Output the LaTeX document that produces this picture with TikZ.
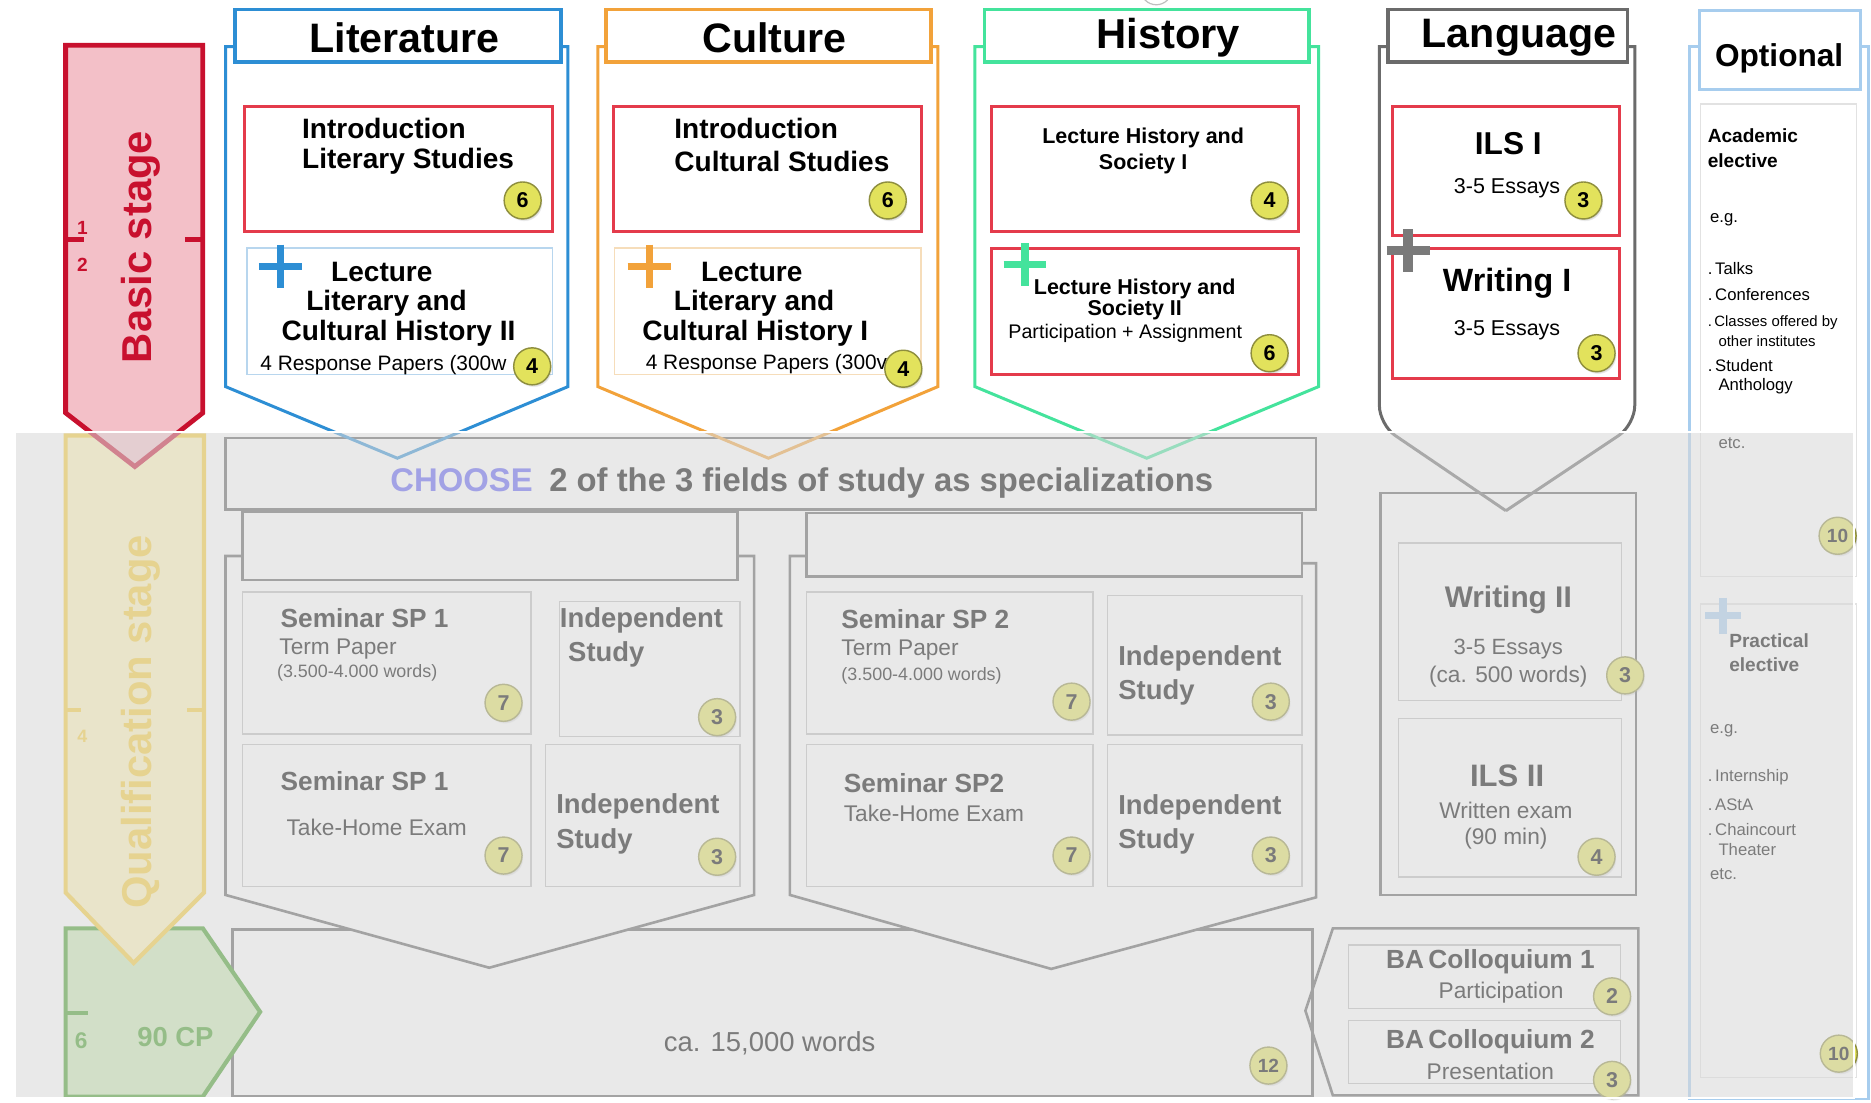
\documentclass[tikz,border=0pt]{standalone}
\usepackage{fontspec}
\setmainfont{Liberation Sans}
\usetikzlibrary{shadows}
\definecolor{redbox}{HTML}{E43B4B}
\definecolor{basicred}{HTML}{C8102E}
\definecolor{basicfill}{HTML}{F3C0C8}
\definecolor{litblue}{HTML}{2D8ED4}
\definecolor{litlight}{HTML}{B8D6EE}
\definecolor{culor}{HTML}{F2A23A}
\definecolor{cullight}{HTML}{F6DDBA}
\definecolor{hisgreen}{HTML}{44E39C}
\definecolor{langgrey}{HTML}{6B6B6B}
\definecolor{optblue}{HTML}{A7CDEE}
\definecolor{optinner}{HTML}{E2E2E2}
\definecolor{badgefill}{HTML}{E2E25C}
\definecolor{badgedraw}{HTML}{8E8E3E}
\definecolor{lowline}{HTML}{5E5E5E}
\definecolor{lowbox}{HTML}{BDBDBD}
\definecolor{choose}{HTML}{5A5AF5}
\definecolor{qyellow}{HTML}{F8CC30}
\definecolor{qfill}{HTML}{FFF3B8}
\definecolor{ggreen}{HTML}{3C9A1E}
\definecolor{gfill}{HTML}{C9E9B2}
\definecolor{ovgrey}{HTML}{D9D9D9}
\newcommand\fz[1]{\fontsize{#1}{#1}\selectfont}
\newcommand\plusmark[5]{\draw[#4, line width=#3pt] (#1,#2) ++(-#5,0) -- ++(2*#5,0) (#1,#2) ++(0,-#5) -- ++(0,2*#5);}
\begin{document}
\begin{tikzpicture}[x=1pt,y=-1pt,
  txt/.style={inner sep=0pt, text=black},
  bold/.style={txt, font=\bfseries},
  hdr/.style={draw=#1, line width=3pt, fill=white},
  colline/.style={draw=#1, line width=2.5pt, line join=miter},
  redb/.style={draw=redbox, line width=2.5pt},
  lowl/.style={draw=lowline, line width=2.2pt, line join=miter},
  lowb/.style={draw=lowbox, line width=1.2pt},
  badge/.style={circle, minimum size=31pt, inner sep=0pt, fill=badgefill, draw=badgedraw, line width=1.2pt, font=\bfseries\fz{18},
    circular drop shadow={shadow xshift=1.2pt, shadow yshift=-2pt, opacity=0.35, shadow scale=1}},
]
\useasboundingbox (0,0) rectangle (1568,924);
\fill[white] (0,0) rectangle (1568,924);

% ================= lower (qualification) part =================
% thesis box
\draw[lowl] (195,779) rectangle (1100,919);
\node[txt] (thesis) at (645,874) {\fz{23}ca. 15,000 words};
% choose box
\draw[lowl] (189,367) rectangle (1103,427);
\node[bold, anchor=west] (choose) at (327,405) {\fz{27.5}\textcolor{choose}{CHOOSE}\hspace{14pt}2 of the 3 fields of study as specializations};
% chevron SP1
\draw[lowl, fill=white] (203,466) -- (189,466) -- (189,750) -- (410,811) -- (632,750) -- (632,466) -- (618,466);
\draw[lowl, fill=white] (203,429) rectangle (618,486);
% chevron SP2
\draw[lowl, fill=white] (676,466) -- (662,466) -- (662,750) -- (881,812) -- (1103,752) -- (1103,472) -- (1091,472);
\draw[lowl, fill=white] (676,430) rectangle (1091,483);
% SP1 boxes
\draw[lowb] (203,496) rectangle (445,615);
\draw[lowb] (469,504) rectangle (620,617);
\draw[lowb] (203,624) rectangle (445,743);
\draw[lowb] (457,624) rectangle (620,743);
\node[bold, anchor=west] (s1a) at (235,518) {\fz{22}Seminar SP 1};
\node[txt, anchor=west] (s1b) at (234,544) {\fz{19}Term Paper};
\node[txt, anchor=west] (s1c) at (232,564) {\fz{15}(3.500-4.000 words)};
\node[bold, anchor=west] (i1a) at (469,520) {\fz{23}Independent};
\node[bold, anchor=west] (i1b) at (476,548) {\fz{23}Study};
\node[bold, anchor=west] (s1d) at (235,655) {\fz{22}Seminar SP 1};
\node[txt, anchor=west] (s1e) at (240,693) {\fz{19}Take-Home Exam};
\node[bold, anchor=west] (i2a) at (466,676) {\fz{23}Independent};
\node[bold, anchor=west] (i2b) at (466,705) {\fz{23}Study};
\node[badge] (b1) at (422,589) {7};
\node[badge] (b2) at (601,601) {3};
\node[badge] (b3) at (422,717) {7};
\node[badge] (b4) at (601,718) {3};
% SP2 boxes
\draw[lowb] (676,496) rectangle (916,615);
\draw[lowb] (928,499) rectangle (1091,616);
\draw[lowb] (676,624) rectangle (916,743);
\draw[lowb] (928,624) rectangle (1091,743);
\node[bold, anchor=west] (s2a) at (705,519) {\fz{22}Seminar SP 2};
\node[txt, anchor=west] (s2b) at (705,545) {\fz{19}Term Paper};
\node[txt, anchor=west] (s2c) at (705,566) {\fz{15}(3.500-4.000 words)};
\node[bold, anchor=west] (i3a) at (937,552) {\fz{23}Independent};
\node[bold, anchor=west] (i3b) at (937,580) {\fz{23}Study};
\node[bold, anchor=west] (s2d) at (707,656) {\fz{22}Seminar SP2};
\node[txt, anchor=west] (s2e) at (707,682) {\fz{19}Take-Home Exam};
\node[bold, anchor=west] (i4a) at (937,677) {\fz{23}Independent};
\node[bold, anchor=west] (i4b) at (937,705) {\fz{23}Study};
\node[badge] (b5) at (898,588) {7};
\node[badge] (b6) at (1065,588) {3};
\node[badge] (b7) at (898,717) {7};
\node[badge] (b8) at (1065,717) {3};
% writing II / ILS II
\draw[lowl] (1157,413) rectangle (1371,750);
\draw[lowb] (1172,455) rectangle (1359,587);
\draw[lowb] (1172,602) rectangle (1359,735);
\node[bold] (w2a) at (1264,503) {\fz{25}Writing II};
\node[txt] (w2b) at (1264,544) {\fz{18.5}3-5 Essays};
\node[txt] (w2c) at (1264,567) {\fz{19}(ca. 500 words)};
\node[bold] (l2a) at (1263,650) {\fz{26}ILS II};
\node[txt] (l2b) at (1262,679) {\fz{19}Written exam};
\node[txt] (l2c) at (1262,703) {\fz{19}(90 min)};
\node[badge] (b9) at (1362,566) {3};
\node[badge] (b10) at (1338,718) {4};
% BA colloquium
\draw[lowl] (1117,778) -- (1373,778) -- (1373,918) -- (1117,918) -- (1094,847) -- cycle;
\draw[lowb] (1130,792) rectangle (1358,845);
\draw[lowb] (1130,855) rectangle (1358,908);
\node[bold] (ba1) at (1249,806) {\fz{22}BA\,Colloquium 1};
\node[txt] (ba1b) at (1258,832) {\fz{19}Participation};
\node[bold] (ba2) at (1249,873) {\fz{22}BA\,Colloquium 2};
\node[txt] (ba2b) at (1249,898) {\fz{19}Presentation};
\node[badge] (b11) at (1351,835) {2};
\node[badge] (b12) at (1351,905) {3};
\node[badge, font=\bfseries\fz{16}] (b13) at (1063,893) {12};

% green 90 CP arrow
\draw[draw=ggreen, fill=gfill, line width=3.5pt, line join=miter] (55,778) -- (170,778) -- (218,848) -- (170,919) -- (55,919) -- cycle;
\draw[ggreen, line width=4pt] (55,849) -- (74,849);
\node[txt, text=ggreen, font=\bfseries\fz{19}] (six) at (68,872) {6};
\node[txt, text=ggreen, font=\bfseries\fz{23}] (cp) at (147,869) {90 CP};
% qualification arrow
\draw[draw=qyellow, fill=qfill, line width=3.5pt, line join=miter] (55,365) -- (171,365) -- (171,748) -- (112,807) -- (55,748) -- cycle;
\draw[qyellow, line width=4pt] (55,595) -- (68,595) (157,595) -- (171,595);
\node[txt, text=qyellow, font=\bfseries\fz{15}] (four) at (69,617) {4};
\node[txt, text=qyellow, font=\bfseries\fz{35}, rotate=90] (qual) at (118,605) {Qualification stage};

% ================= top columns =================
% Literature
\draw[colline=litblue] (197,39) -- (189,39) -- (189,324) -- (333,384) -- (476,324) -- (476,39) -- (470,39);
\draw[hdr=litblue] (197,8) rectangle (470,52);
\node[bold, font=\bfseries\fz{34.5}] (lit) at (339,32) {Literature};
\draw[redb] (205,89) rectangle (463,194);
\node[bold, anchor=west] (lit1) at (253,108) {\fz{23.5}Introduction};
\node[bold, anchor=west] (lit2) at (253,135) {\fz{23.5}Literary Studies};
\draw[draw=litlight, line width=1.2pt] (207,208) rectangle (463,314);
\plusmark{235}{223}{6}{litblue}{18}
\node[bold] (lit3) at (320,228) {\fz{23.5}Lecture};
\node[bold] (lit4) at (324,254) {\fz{23.5}Literary and};
\node[bold] (lit5) at (334,279) {\fz{23.5}Cultural History II};
\node[txt, anchor=west] (lit6) at (218,306) {\fz{17.5}4 Response Papers (300w};
\node[badge] (bl1) at (438,168) {6};
\node[badge] (bl2) at (446,307) {4};
% Culture
\draw[colline=culor] (508,39) -- (501,39) -- (501,324) -- (644,384) -- (786,324) -- (786,39) -- (780,39);
\draw[hdr=culor] (508,8) rectangle (780,52);
\node[bold, font=\bfseries\fz{34.5}] (cul) at (649,32) {Culture};
\draw[redb] (514,89) rectangle (772,194);
\node[bold, anchor=west] (cul1) at (565,108) {\fz{23.5}Introduction};
\node[bold, anchor=west] (cul2) at (565,135) {\fz{23.5}Cultural Studies};
\draw[draw=cullight, line width=1.2pt] (515,208) rectangle (772,314);
\plusmark{544}{223}{6}{culor}{18}
\node[bold] (cul3) at (630,228) {\fz{23.5}Lecture};
\node[bold] (cul4) at (632,254) {\fz{23.5}Literary and};
\node[bold] (cul5) at (633,279) {\fz{23.5}Cultural History I};
\node[txt, anchor=west] (cul6) at (541,305) {\fz{17.5}4 Response Papers (300v};
\node[badge] (bc1) at (744,168) {6};
\node[badge] (bc2) at (757,309) {4};
% History
\draw[colline=hisgreen] (825,39) -- (817,39) -- (817,324) -- (961,384) -- (1105,324) -- (1105,39) -- (1097,39);
\draw[hdr=hisgreen] (825,8) rectangle (1097,52);
\node[bold, font=\bfseries\fz{35}] (his) at (979,32) {History};
\draw[redb] (831,89) rectangle (1088,194);
\node[bold] (his1) at (958,116) {\fz{18}Lecture History and};
\node[bold] (his2) at (958,137) {\fz{18}Society I};
\draw[redb] (831,208) rectangle (1088,314);
\plusmark{859}{222}{6}{hisgreen}{18}
\node[bold] (his3) at (951,242) {\fz{18}Lecture History and};
\node[bold] (his4) at (951,260) {\fz{18}Society II};
\node[txt] (his5) at (943,279) {\fz{16.5}Participation + Assignment};
\node[badge] (bh1) at (1064,168) {4};
\node[badge] (bh2) at (1064,296) {6};
% Language
\draw[colline=langgrey] (1163,39) -- (1156,39) -- (1156,300) [rounded corners=16] -- (1156,356) -- (1262,428);
\draw[colline=langgrey] (1364,39) -- (1370,39) -- (1370,300) [rounded corners=16] -- (1370,356) -- (1262,428);
\draw[hdr=langgrey] (1163,8) rectangle (1364,52);
\node[bold, font=\bfseries\fz{34.5}] (lang) at (1273,32) {Language};
\draw[redb] (1167,89) rectangle (1357,197);
\node[bold] (lang1) at (1264,120) {\fz{26.5}ILS I};
\node[txt] (lang2) at (1263,158) {\fz{18}3-5 Essays};
\draw[redb] (1167,208) rectangle (1357,317);
\node[bold] (lang3) at (1263,237) {\fz{27}Writing I};
\node[txt] (lang4) at (1263,277) {\fz{18}3-5 Essays};
\node[badge] (bg1) at (1327,168) {3};
\node[badge] (bg2) at (1338,296) {3};
\plusmark{1180}{210}{8}{langgrey!90}{18}
% Optional
\draw[draw=optblue, line width=2pt] (1424,39) -- (1416,39) -- (1416,921) -- (1566,921) -- (1566,39) -- (1559,39);
\draw[draw=optinner, line width=1.2pt] (1425,87) rectangle (1556,483);
\draw[draw=optinner, line width=1.2pt] (1425,506) rectangle (1556,903);
\draw[hdr=optblue, line width=2.5pt] (1424,9) rectangle (1559,75);
\node[bold, font=\bfseries\fz{26.5}] (opt) at (1491,49) {Optional};
\node[bold, anchor=west] (o1) at (1431,114) {\fz{16}Academic};
\node[bold, anchor=west] (o2) at (1431,135) {\fz{16}elective};
\node[txt, anchor=west] (o3) at (1433,184) {\fz{14}e.g.};
\node[txt, anchor=west] (o4) at (1431,225) {\fz{14}.\,Talks};
\node[txt, anchor=west] (o5) at (1431,247) {\fz{14}.\,Conferences};
\node[txt, anchor=west] (o6) at (1431,270) {\fz{12.5}.\,Classes offered by};
\node[txt, anchor=west] (o7) at (1440,286) {\fz{12.5}other institutes};
\node[txt, anchor=west] (o8) at (1431,306) {\fz{14}.\,Student};
\node[txt, anchor=west] (o9) at (1440,324) {\fz{14}Anthology};
\node[txt, anchor=west] (o10) at (1440,371) {\fz{14}etc.};
\node[badge, font=\bfseries\fz{16}] (bo1) at (1540,449) {10};
\plusmark{1444}{516}{6}{optblue}{15}
\node[bold, anchor=west] (o11) at (1449,537) {\fz{16}Practical};
\node[bold, anchor=west] (o12) at (1449,557) {\fz{16}elective};
\node[txt, anchor=west] (o13) at (1433,612) {\fz{14}e.g.};
\node[txt, anchor=west] (o14) at (1431,651) {\fz{14}.\,Internship};
\node[txt, anchor=west] (o15) at (1431,674) {\fz{14}.\,AStA};
\node[txt, anchor=west] (o16) at (1431,695) {\fz{14}.\,Chaincourt};
\node[txt, anchor=west] (o17) at (1440,712) {\fz{14}Theater};
\node[txt, anchor=west] (o18) at (1433,733) {\fz{14}etc.};
\node[badge, font=\bfseries\fz{16}] (bo2) at (1541,883) {10};
% small cut-off circle at top
\draw[black!25, line width=1pt] (969,-9) circle[radius=13];

% Basic stage arrow
\draw[draw=basicred, fill=basicfill, line width=4pt, line join=miter] (55,38) -- (170,38) -- (170,346) -- (113,391) -- (55,346) -- cycle;
\draw[basicred, line width=4pt] (55,201) -- (70,201) (155,201) -- (170,201);
\node[txt, text=basicred, font=\bfseries\fz{16}] (one) at (69,191) {1};
\node[txt, text=basicred, font=\bfseries\fz{16}] (two) at (69,222) {2};
\node[txt, text=basicred, font=\bfseries\fz{35}, rotate=90] (basic) at (118,207) {Basic stage};

% ================= grey overlay =================
\fill[ovgrey, fill opacity=0.57] (13,362) rectangle (1554,920);
\draw[white, line width=1.5pt] (13,362) rectangle (1554,920);
\end{tikzpicture}
\end{document}
